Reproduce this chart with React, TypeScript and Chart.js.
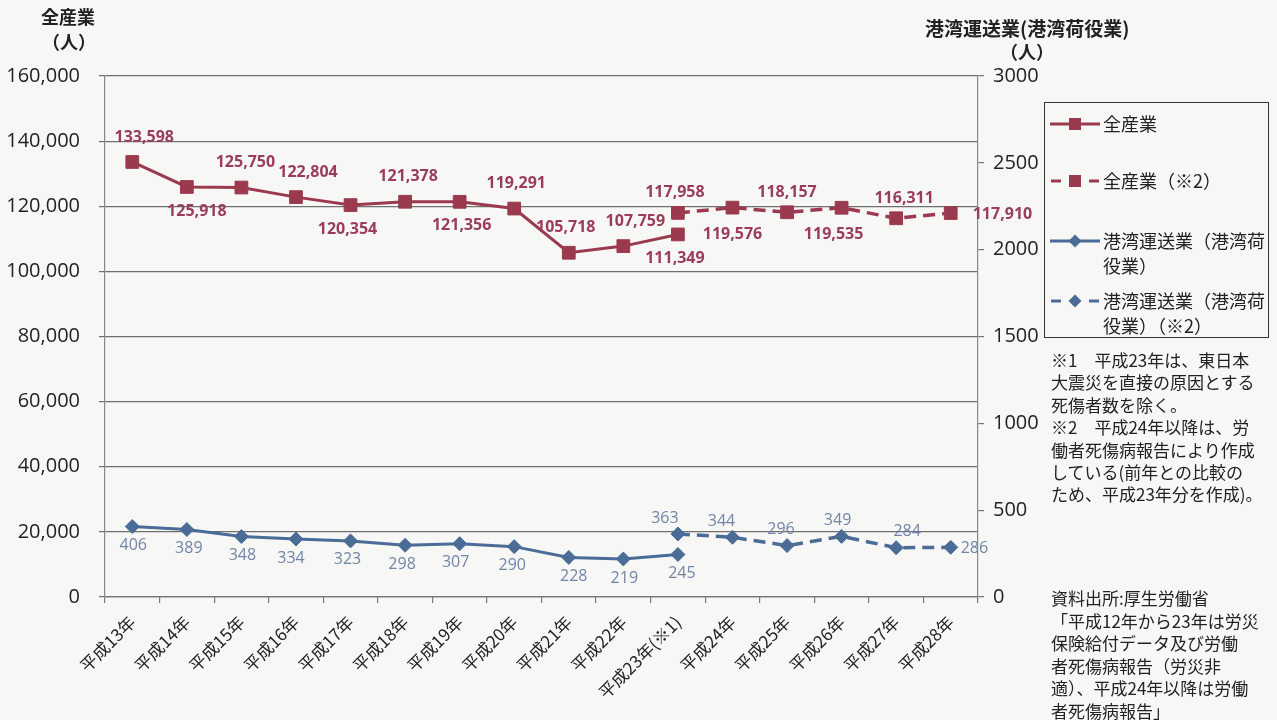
import React, { useEffect, useRef } from 'react';
import { Chart, registerables } from 'chart.js';

Chart.register(...registerables);

// ---- data ----
const categories = [
  '平成13年', '平成14年', '平成15年', '平成16年', '平成17年', '平成18年', '平成19年', '平成20年',
  '平成21年', '平成22年', '平成23年(※1)', '平成24年', '平成25年', '平成26年', '平成27年', '平成28年',
];
const allIndustry = [133598, 125918, 125750, 122804, 120354, 121378, 121356, 119291, 105718, 107759, 111349, null, null, null, null, null];
const allIndustryNew = [null, null, null, null, null, null, null, null, null, null, 117958, 119576, 118157, 119535, 116311, 117910];
const portCargo = [406, 389, 348, 334, 323, 298, 307, 290, 228, 219, 245, null, null, null, null, null];
const portCargoNew = [null, null, null, null, null, null, null, null, null, null, 363, 344, 296, 349, 284, 286];

const leftMax = 160000;
const leftStep = 20000;
const rightMax = 3000;
const rightStep = 500;

const seriesNames = ['全産業', '全産業（※2）', '港湾運送業（港湾荷役業）', '港湾運送業（港湾荷役業）（※2）'];

// label placement (a = above, b = below, r = right) per point
const allIndustryLabelPos = ['a', 'b', 'a', 'a', 'b', 'a', 'b', 'a', 'a', 'a', 'b', null, null, null, null, null];
const allIndustryLabelDx = [12, 10, 4, 12, -3, 3, 2, 2, -3, 12, -3, 0, 0, 0, 0, 0];
const allIndustryNewLabelPos = [null, null, null, null, null, null, null, null, null, null, 'a', 'b', 'a', 'b', 'a', 'r'];
const allIndustryNewLabelDx = [0, 0, 0, 0, 0, 0, 0, 0, 0, 0, -3, 0, 0, -8, 8, 0];
const portLabelPos = ['b', 'b', 'b', 'b', 'b', 'b', 'b', 'b', 'b', 'b', 'b', null, null, null, null, null];
const portLabelDx = [1, 2, 1, -5, -3, -3, -4, -2, 5, 1, 4, 0, 0, 0, 0, 0];
const portNewLabelPos = [null, null, null, null, null, null, null, null, null, null, 'a', 'a', 'a', 'a', 'a', 'r'];
const portNewLabelDx = [0, 0, 0, 0, 0, 0, 0, 0, 0, 0, -13, -11, -6, -4, 11, 0];

const RED = '#9b3a4e';
const RED_TEXT = '#9a3c5a';
const BLUE = '#4b6c96';
const BLUE_TEXT = '#7285a8';

const NUM_FONT = '"Open Sans", "Liberation Sans", sans-serif';
const JP_FONT = '"Noto Sans CJK JP", "Noto Sans", sans-serif';

const labelSpecs = [
  { pos: allIndustryLabelPos, dx: allIndustryLabelDx, color: RED_TEXT, font: `bold 16px ${NUM_FONT}`, up: 25, down: 24, right: 22, fmt: (v: number) => v.toLocaleString('en-US') },
  { pos: allIndustryNewLabelPos, dx: allIndustryNewLabelDx, color: RED_TEXT, font: `bold 16px ${NUM_FONT}`, up: 20, down: 27, right: 22, fmt: (v: number) => v.toLocaleString('en-US') },
  { pos: portLabelPos, dx: portLabelDx, color: BLUE_TEXT, font: `16px ${NUM_FONT}`, up: 18, down: 19, right: 10, fmt: (v: number) => String(v) },
  { pos: portNewLabelPos, dx: portNewLabelDx, color: BLUE_TEXT, font: `16px ${NUM_FONT}`, up: 16, down: 19, right: 10, fmt: (v: number) => String(v) },
];

const pointLabelPlugin = {
  id: 'pointLabels',
  afterDatasetsDraw(chart: any) {
    const ctx = chart.ctx;
    ctx.save();
    chart.data.datasets.forEach((ds: any, di: number) => {
      const spec = labelSpecs[di];
      const meta = chart.getDatasetMeta(di);
      meta.data.forEach((pt: any, i: number) => {
        const v = ds.data[i];
        const p = spec.pos[i];
        if (v == null || !p) return;
        ctx.font = spec.font;
        ctx.fillStyle = spec.color;
        ctx.textBaseline = 'middle';
        const text = spec.fmt(v);
        if (p === 'r') {
          ctx.textAlign = 'left';
          ctx.fillText(text, pt.x + spec.right, pt.y + 1);
        } else {
          ctx.textAlign = 'center';
          const y = p === 'a' ? pt.y - spec.up : pt.y + spec.down;
          ctx.fillText(text, pt.x + (spec.dx[i] || 0), y);
        }
      });
    });
    ctx.restore();
  },
};

function LegendSample({ color, dashed, diamond }: { color: string; dashed: boolean; diamond: boolean }) {
  return (
    <svg width={50} height={16} style={{ position: 'absolute', left: 5, top: 0 }}>
      {dashed ? (
        <>
          <line x1={1} y1={8} x2={11} y2={8} stroke={color} strokeWidth={3} />
          <line x1={39} y1={8} x2={49} y2={8} stroke={color} strokeWidth={3} />
        </>
      ) : (
        <line x1={0} y1={8} x2={50} y2={8} stroke={color} strokeWidth={3} />
      )}
      {diamond ? (
        <polygon points="25,1.5 31.5,8 25,14.5 18.5,8" fill={color} />
      ) : (
        <rect x={19} y={2} width={12} height={12} fill={color} />
      )}
    </svg>
  );
}

export default function App() {
  const canvasRef = useRef<HTMLCanvasElement | null>(null);

  useEffect(() => {
    const canvas = canvasRef.current;
    if (!canvas) return;
    const chart = new Chart(canvas, {
      type: 'line',
      data: {
        labels: categories,
        datasets: [
          {
            label: seriesNames[0], data: allIndustry, yAxisID: 'y', borderColor: RED, backgroundColor: RED,
            borderWidth: 3, pointStyle: 'rect', pointRadius: 9, pointBorderWidth: 1, pointBorderColor: RED, pointBackgroundColor: RED,
          },
          {
            label: seriesNames[1], data: allIndustryNew, yAxisID: 'y', borderColor: RED, backgroundColor: RED,
            borderWidth: 3.5, borderDash: [12, 7], pointStyle: 'rect', pointRadius: 9, pointBorderWidth: 1, pointBorderColor: RED, pointBackgroundColor: RED,
          },
          {
            label: seriesNames[2], data: portCargo, yAxisID: 'y1', borderColor: BLUE, backgroundColor: BLUE,
            borderWidth: 3, pointStyle: 'rectRot', pointRadius: 7, pointBorderWidth: 1, pointBorderColor: BLUE, pointBackgroundColor: BLUE,
          },
          {
            label: seriesNames[3], data: portCargoNew, yAxisID: 'y1', borderColor: BLUE, backgroundColor: BLUE,
            borderWidth: 3.5, borderDash: [12, 7], pointStyle: 'rectRot', pointRadius: 7, pointBorderWidth: 1, pointBorderColor: BLUE, pointBackgroundColor: BLUE,
          },
        ] as any,
      },
      options: {
        animation: false,
        responsive: false,
        maintainAspectRatio: false,
        layout: { padding: { left: 8, right: 0, top: 76, bottom: 0 } },
        plugins: { legend: { display: false }, tooltip: { enabled: false }, title: { display: false } },
        scales: {
          x: {
            type: 'category',
            offset: true,
            grid: { display: true, drawOnChartArea: false, drawTicks: true, tickLength: 6, color: '#777', lineWidth: 1.2, offset: true },
            border: { display: true, color: '#777', width: 1.2 },
            ticks: { maxRotation: 45, minRotation: 45, autoSkip: false, padding: 9, color: '#222', font: { family: JP_FONT, size: 17 } },
            afterFit: (s: any) => { s.height = 720 - 597; },
          },
          y: {
            type: 'linear', position: 'left', min: 0, max: leftMax,
            grid: { display: true, drawOnChartArea: true, drawTicks: true, tickLength: 6, color: '#6f6f6f', lineWidth: 1.2 },
            border: { display: true, color: '#888', width: 1.2 },
            ticks: { stepSize: leftStep, padding: 19, color: '#222', font: { family: NUM_FONT, size: 20 }, callback: (v: any) => Number(v).toLocaleString('en-US') },
            afterFit: (s: any) => { s.width = 97; },
          },
          y1: {
            type: 'linear', position: 'right', min: 0, max: rightMax,
            grid: { display: true, drawOnChartArea: false, drawTicks: true, tickLength: 6, color: '#777', lineWidth: 1.2 },
            border: { display: true, color: '#888', width: 1.2 },
            ticks: { stepSize: rightStep, padding: 9, color: '#222', font: { family: NUM_FONT, size: 20 }, callback: (v: any) => String(v) },
            afterFit: (s: any) => { s.width = 1277 - 978; },
          },
        },
      } as any,
      plugins: [pointLabelPlugin],
    });
    return () => chart.destroy();
  }, []);

  const jp: React.CSSProperties = { position: 'absolute', fontFamily: JP_FONT, color: '#222', whiteSpace: 'nowrap', lineHeight: 1 };

  const noteLines = [
    '※1　平成23年は、東日本',
    '大震災を直接の原因とする',
    '死傷者数を除く。',
    '※2　平成24年以降は、労',
    '働者死傷病報告により作成',
    'している(前年との比較の',
    'ため、平成23年分を作成)。',
  ];
  const sourceLines = [
    '資料出所:厚生労働省',
    '「平成12年から23年は労災',
    '保険給付データ及び労働',
    '者死傷病報告（労災非',
    '適）、平成24年以降は労働',
    '者死傷病報告」',
  ];

  return (
    <div style={{ position: 'fixed', left: 0, top: 0, width: 1277, height: 720, background: '#f7f7f5', overflow: 'hidden' }}>
      <canvas ref={canvasRef} width={1277} height={720} style={{ position: 'absolute', left: 0, top: 0, width: 1277, height: 720 }} />

      <div style={{ ...jp, left: 41, top: 7, fontSize: 18, fontWeight: 700 }}>全産業</div>
      <div style={{ ...jp, left: 42, top: 32, fontSize: 18, fontWeight: 700 }}>（人）</div>
      <div style={{ ...jp, left: 925, top: 18, fontSize: 19, fontWeight: 700 }}>港湾運送業(港湾荷役業)</div>
      <div style={{ ...jp, left: 1000, top: 42, fontSize: 18, fontWeight: 700 }}>（人）</div>

      <div style={{ position: 'absolute', left: 1044, top: 102, width: 225, height: 236, border: '1.5px solid #333', boxSizing: 'border-box' }}>
        <div style={{ position: 'absolute', left: 0, top: 13 }}>
          <LegendSample color={RED} dashed={false} diamond={false} />
          <div style={{ ...jp, left: 58, top: -2, fontSize: 18 }}>全産業</div>
        </div>
        <div style={{ position: 'absolute', left: 0, top: 70 }}>
          <LegendSample color={RED} dashed={true} diamond={false} />
          <div style={{ ...jp, left: 58, top: -2, fontSize: 18 }}>全産業（※2）</div>
        </div>
        <div style={{ position: 'absolute', left: 0, top: 130 }}>
          <LegendSample color={BLUE} dashed={false} diamond={true} />
          <div style={{ ...jp, left: 58, top: -2, fontSize: 18 }}>港湾運送業（港湾荷</div>
          <div style={{ ...jp, left: 58, top: 23, fontSize: 18 }}>役業）</div>
        </div>
        <div style={{ position: 'absolute', left: 0, top: 190 }}>
          <LegendSample color={BLUE} dashed={true} diamond={true} />
          <div style={{ ...jp, left: 58, top: -2, fontSize: 18 }}>港湾運送業（港湾荷</div>
          <div style={{ ...jp, left: 58, top: 23, fontSize: 18 }}>役業）（※2）</div>
        </div>
      </div>

      {noteLines.map((t, i) => (
        <div key={'n' + i} style={{ ...jp, left: 1051, top: 351 + i * 22.4, fontSize: 17 }}>{t}</div>
      ))}
      {sourceLines.map((t, i) => (
        <div key={'s' + i} style={{ ...jp, left: 1051, top: 589 + i * 22.6, fontSize: 17 }}>{t}</div>
      ))}
    </div>
  );
}
